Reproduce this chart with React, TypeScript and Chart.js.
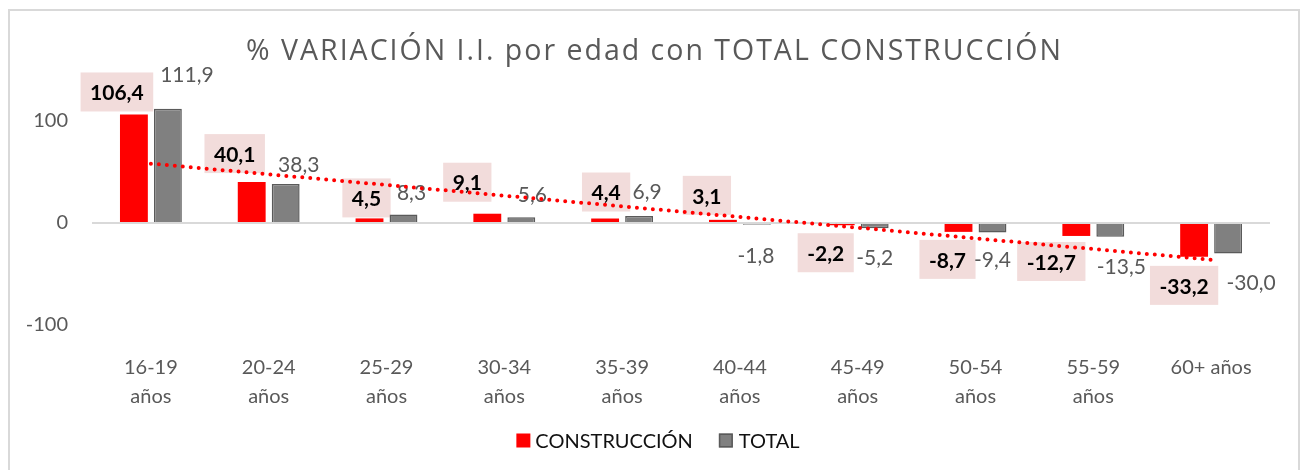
import React, { useEffect, useRef } from "react";
import { Chart, registerables } from "chart.js";

Chart.register(...registerables);

// ---------- data ----------
const categories: (string | string[])[] = [
  ["16-19", "años"],
  ["20-24", "años"],
  ["25-29", "años"],
  ["30-34", "años"],
  ["35-39", "años"],
  ["40-44", "años"],
  ["45-49", "años"],
  ["50-54", "años"],
  ["55-59", "años"],
  "60+ años",
];
const construccion = [106.4, 40.1, 4.5, 9.1, 4.4, 3.1, -2.2, -8.7, -12.7, -33.2];
const total = [111.9, 38.3, 8.3, 5.6, 6.9, -1.8, -5.2, -9.4, -13.5, -30.0];
// linear trend of CONSTRUCCIÓN, read at first and last category
const trendEnds = [58.2, -36.0];
const yTickValues = [-100, 0, 100];
const seriesNames = ["CONSTRUCCIÓN", "TOTAL"];
const titleText = "% VARIACIÓN I.I. por edad con TOTAL CONSTRUCCIÓN";

// ---------- styles ----------
const FONT = "Lato, 'Open Sans', sans-serif";
const TITLE_FONT = "'Open Sans', Lato, sans-serif";
const RED = "#ff0000";
const GREY = "#808080";
const GREY_BORDER = "#5a5a5a";
const TEXT_GREY = "#595959";
const BOX_PINK = "#f2dcdb";
// manual label offsets (px) relative to the category centre / bar end
const consOffsets = [
  [-34, -22], [-34, -28], [-20, -20], [-37, -31], [-16, -26],
  [-33, -24], [-32, 28], [-28, 28], [-42, 26], [-27, 29],
];
const totalOffsets = [
  [36, -35], [30, -20], [25, -22], [28, -23], [25, -25],
  [16, 30], [17, 29], [17, 27], [28, 29], [40, 29],
];

const fmt = (v: number) => v.toFixed(1).replace(".", ",");

const trendData = categories.map((_, i) =>
  i === 0 ? trendEnds[0] : i === categories.length - 1 ? trendEnds[1] : null
);

const decorPlugin = {
  id: "decor",
  beforeDraw(chart: any) {
    const ctx = chart.ctx as CanvasRenderingContext2D;
    ctx.save();
    ctx.fillStyle = "#ffffff";
    ctx.fillRect(0, 0, chart.width, chart.height);
    // outer frame
    ctx.strokeStyle = "#d9d9d9";
    ctx.lineWidth = 2;
    ctx.strokeRect(9, 10, 1290, 480);
    // title
    ctx.fillStyle = TEXT_GREY;
    ctx.font = `28.5px ${TITLE_FONT}`;
    ctx.textAlign = "left";
    ctx.textBaseline = "alphabetic";
    const tw = ctx.measureText(titleText).width;
    const ls = Math.max(0, Math.min(2, (817 - tw) / (titleText.length - 1)));
    (ctx as any).letterSpacing = `${ls}px`;
    const realW = tw + ls * (titleText.length - 1);
    ctx.fillText(titleText, 653.5 - realW / 2, 60);
    (ctx as any).letterSpacing = "0px";
    // legend
    ctx.font = `20px ${FONT}`;
    const w1 = ctx.measureText(seriesNames[0]).width;
    const w2 = ctx.measureText(seriesNames[1]).width;
    const sq = 14;
    const totalW = sq + 5 + w1 + 26 + sq + 6 + w2;
    let x = 658 - totalW / 2;
    const cy = 440.5;
    ctx.fillStyle = RED;
    ctx.fillRect(x, cy - sq / 2, sq, sq);
    x += sq + 5;
    ctx.fillStyle = "#111111";
    ctx.fillText(seriesNames[0], x, 447.5);
    x += w1 + 26;
    ctx.fillStyle = GREY;
    ctx.fillRect(x, cy - sq / 2, sq, sq);
    ctx.strokeStyle = GREY_BORDER;
    ctx.lineWidth = 1.5;
    ctx.strokeRect(x + 0.75, cy - sq / 2 + 0.75, sq - 1.5, sq - 1.5);
    x += sq + 6;
    ctx.fillStyle = "#111111";
    ctx.fillText(seriesNames[1], x, 447.5);
    ctx.restore();
  },
  beforeDatasetsDraw(chart: any) {
    const ctx = chart.ctx as CanvasRenderingContext2D;
    const xs = chart.scales.x;
    const ys = chart.scales.y;
    ctx.save();
    ctx.textAlign = "center";
    ctx.textBaseline = "middle";
    construccion.forEach((v, i) => {
      const cx = xs.getPixelForValue(i) + consOffsets[i][0];
      const cy = ys.getPixelForValue(v) + consOffsets[i][1];
      const t = fmt(v);
      ctx.font = `bold 21px ${FONT}`;
      const w = ctx.measureText(t).width;
      ctx.fillStyle = BOX_PINK;
      ctx.fillRect(cx - (w + 19) / 2, cy - 20, w + 19, 39);
      ctx.fillStyle = "#000000";
      ctx.fillText(t, cx, cy + 1);
    });
    total.forEach((v, i) => {
      const cx = xs.getPixelForValue(i) + totalOffsets[i][0];
      const cy = ys.getPixelForValue(v) + totalOffsets[i][1];
      ctx.font = `21px ${FONT}`;
      ctx.fillStyle = TEXT_GREY;
      ctx.fillText(fmt(v), cx, cy + 1);
    });
    ctx.restore();
  },
};

export default function App() {
  const canvasRef = useRef<HTMLCanvasElement | null>(null);

  useEffect(() => {
    document.body.style.margin = "0";
    const canvas = canvasRef.current;
    if (!canvas) return;
    const chart = new Chart(canvas, {
      type: "bar",
      data: {
        labels: categories as any,
        datasets: [
          {
            type: "line",
            label: "trend",
            data: trendData as any,
            borderColor: RED,
            borderWidth: 4,
            borderDash: [0, 8],
            borderCapStyle: "round",
            pointRadius: 0,
            spanGaps: true,
            fill: false,
            order: 0,
          } as any,
          {
            label: seriesNames[0],
            data: construccion,
            backgroundColor: RED,
            borderWidth: 0,
            categoryPercentage: 0.577,
            barPercentage: 0.82,
            order: 1,
          },
          {
            label: seriesNames[1],
            data: total,
            backgroundColor: GREY,
            borderColor: GREY_BORDER,
            borderWidth: 1.5,
            categoryPercentage: 0.577,
            barPercentage: 0.82,
            order: 1,
          },
        ],
      },
      options: {
        animation: false,
        responsive: false,
        devicePixelRatio: 1,
        layout: { padding: { left: 0, right: 41, top: 70, bottom: 65 } },
        plugins: {
          legend: { display: false },
          title: { display: false },
          tooltip: { enabled: false },
        },
        scales: {
          x: {
            grid: { display: false },
            border: { display: false },
            ticks: {
              color: TEXT_GREY,
              font: { family: FONT, size: 20, lineHeight: 1.45 },
              padding: 20,
              maxRotation: 0,
              autoSkip: false,
            },
            afterFit: (s: any) => {
              s.height = 80;
            },
          },
          y: {
            min: -100,
            max: 150,
            afterBuildTicks: (s: any) => {
              s.ticks = yTickValues.map((v) => ({ value: v }));
            },
            afterFit: (s: any) => {
              s.width = 92;
            },
            grid: {
              color: (c: any) => (c.tick && c.tick.value === 0 ? "#d9d9d9" : "rgba(0,0,0,0)"),
              lineWidth: 2,
              drawTicks: false,
            },
            border: { display: false },
            ticks: {
              color: TEXT_GREY,
              font: { family: FONT, size: 20 },
              padding: 24,
              callback: (v: any) => String(v),
            },
          },
        },
      },
      plugins: [decorPlugin],
    });
    return () => chart.destroy();
  }, []);

  return (
    <div style={{ position: "absolute", left: 0, top: 0, width: 1311, height: 470 }}>
      <canvas ref={canvasRef} width={1311} height={470} style={{ display: "block" }} />
    </div>
  );
}
